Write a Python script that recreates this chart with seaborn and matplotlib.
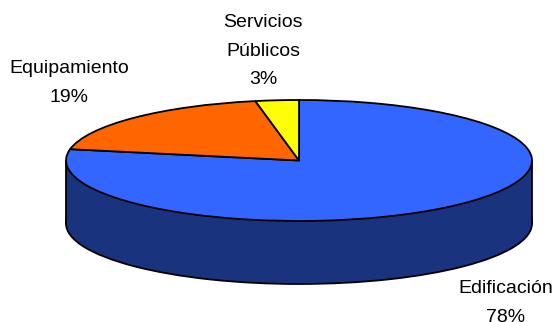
import numpy as np
import matplotlib
matplotlib.use("Agg")
import matplotlib.pyplot as plt
import seaborn as sns

# Investment share by sector
sectors = ["Edificación", "Equipamiento", "Servicios\nPúblicos"]
shares = [78, 19, 3]
top_colors = ["#3366FF", "#FF6600", "#FFFF00"]
side_color = "#1A337F"
label_xy = [(506, 303), (69, 83), (263, 51)]

WIDTH, HEIGHT = 557, 322
CX, CY, RX, RY, DEPTH = 299, 160.5, 233, 60.5, 63

sns.set_theme(style="white")
plt.rcParams["font.family"] = ["Liberation Sans", "DejaVu Sans"]

fig = plt.figure(figsize=(WIDTH / 100, HEIGHT / 100), dpi=100, facecolor="white")
ax = fig.add_axes([0, 0, 1, 1])
outline = {"edgecolor": "black", "linewidth": 1.3}

# Lower rim of the disc, then the wall joining it to the top face
drop = DEPTH / RY
ax.pie([1], colors=[side_color], center=(0, -drop), radius=1, wedgeprops=outline)
ax.fill_between([-1, 1], -drop, 0, color=side_color, linewidth=0, zorder=2)
ax.plot([-1, -1], [-drop, 0], color="black", lw=1.3, zorder=2.5)
ax.plot([1, 1], [-drop, 0], color="black", lw=1.3, zorder=2.5)

# Top face, clockwise from twelve o'clock
wedges, _ = ax.pie(shares, colors=top_colors, startangle=90, counterclock=False,
                   radius=1, wedgeprops=outline)
for w in wedges:
    w.set_zorder(3)

# Unequal axis scales flatten the circles into ellipses
ax.set_aspect("auto")
ax.set_xlim(-CX / RX, (WIDTH - CX) / RX)
ax.set_ylim((CY - HEIGHT) / RY, CY / RY)
ax.axis("off")

for name, share, (px, py) in zip(sectors, shares, label_xy):
    fig.text(px / WIDTH, 1 - py / HEIGHT, f"{name}\n{share}%", ha="center", va="center",
             fontsize=14, linespacing=1.85, color="black")

fig.savefig("out.png", dpi=100)
